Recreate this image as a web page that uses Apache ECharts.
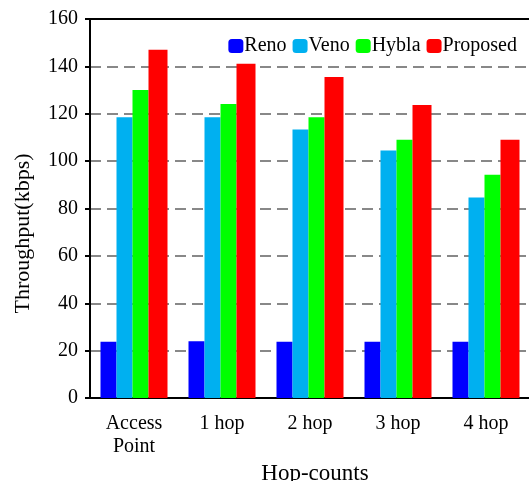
<!DOCTYPE html>
<html>
<head>
<meta charset="utf-8">
<script src="https://cdn.jsdelivr.net/npm/echarts@6/dist/echarts.min.js"></script>
<style>
html,body{margin:0;padding:0;background:#fff;}
#c{width:529px;height:481px;}
</style>
</head>
<body>
<div id="c"></div>
<script>
const categories = ['Access\nPoint', '1 hop', '2 hop', '3 hop', '4 hop'];
const reno = [23.7, 24.0, 23.7, 23.7, 23.7];
const veno = [118.5, 118.5, 113.4, 104.5, 84.6];
const hybla = [130.0, 124.1, 118.5, 109.0, 94.2];
const proposed = [147.0, 141.1, 135.5, 123.7, 109.0];
const yTicks = { min: 0, max: 160, interval: 20 };

const FONT = "'Liberation Serif', 'Times New Roman', serif";
const chart = echarts.init(document.getElementById('c'), null, { renderer: 'canvas' });
chart.setOption({
  animation: false,
  backgroundColor: '#fff',
  textStyle: { fontFamily: FONT, color: '#000' },
  grid: { left: 90, top: 19, right: -1, bottom: 83, outerBoundsMode: 'none', containLabel: false, show: true, borderColor: '#000', borderWidth: 2, backgroundColor: 'transparent' },
  legend: {
    right: 12, top: 36, padding: 0,
    itemWidth: 15, itemHeight: 14, itemGap: 6,
    icon: 'roundRect',
    textStyle: { fontFamily: FONT, fontSize: 20, color: '#000', padding: [0, 0, 0, -4] },
    data: ['Reno', 'Veno', 'Hybla', 'Proposed']
  },
  xAxis: [{
    type: 'category',
    data: categories,
    name: 'Hop-counts',
    nameLocation: 'middle',
    nameGap: 64,
    nameTextStyle: { fontFamily: FONT, fontSize: 23, color: '#000', padding: [0, 0, 0, 10] },
    axisLine: { lineStyle: { color: '#000', width: 2 } },
    axisTick: { alignWithLabel: true, length: 5, lineStyle: { color: '#000', width: 2 } },
    axisLabel: { fontFamily: FONT, fontSize: 20, color: '#000', margin: 14, lineHeight: 23 }
  }, {
    type: 'category',
    position: 'top',
    data: categories,
    axisLine: { show: true, lineStyle: { color: '#000', width: 2 } },
    axisTick: { show: false },
    axisLabel: { show: false },
    splitLine: { show: false }
  }],
  yAxis: {
    type: 'value',
    min: yTicks.min, max: yTicks.max, interval: yTicks.interval,
    name: 'Throughput(kbps)',
    nameLocation: 'middle',
    nameGap: 56,
    nameTextStyle: { fontFamily: FONT, fontSize: 22, color: '#000', padding: [0, 50, 0, 0] },
    axisLine: { show: true, lineStyle: { color: '#000', width: 2 } },
    axisTick: { show: true, length: 5, lineStyle: { color: '#000', width: 2 } },
    axisLabel: { fontFamily: FONT, fontSize: 20, color: '#000', margin: 12 },
    splitLine: { show: true, showMinLine: false, showMaxLine: false, lineStyle: { color: '#888', width: 2, type: [11, 6] } }
  },
  series: [
    { name: 'Reno', type: 'bar', data: reno, barWidth: 16, barGap: '0%', itemStyle: { color: '#0000FF' } },
    { name: 'Veno', type: 'bar', data: veno, barWidth: 16, barGap: '0%', itemStyle: { color: '#00B0F0' } },
    { name: 'Hybla', type: 'bar', data: hybla, barWidth: 16, barGap: '0%', itemStyle: { color: '#00FF00' } },
    { name: 'Proposed', type: 'bar', data: proposed, barWidth: 19, barGap: '0%', itemStyle: { color: '#FF0000' } }
  ]
});
</script>
</body>
</html>
